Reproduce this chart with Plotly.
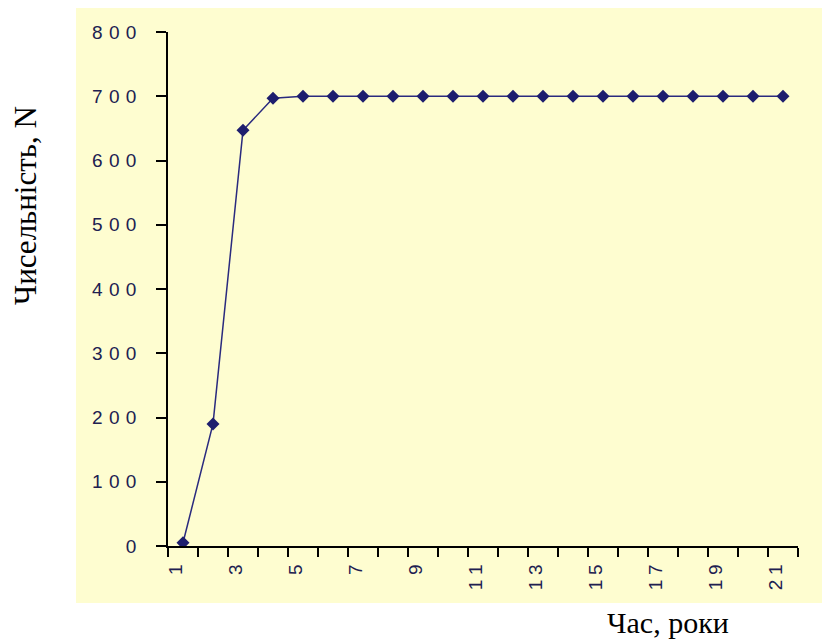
import plotly.graph_objects as go

years = list(range(1, 22))
population = [5, 190, 647, 697] + [700] * 17
y_ticks = [0, 100, 200, 300, 400, 500, 600, 700, 800]
x_label_years = [1, 3, 5, 7, 9, 11, 13, 15, 17, 19, 21]

SP_Y = "\u2004"
SP_X = "\u2005"

W, H = 822, 641
L, R, T, B = 168, 24, 32, 95
pw, ph = W - L - R, H - T - B

def px_x(p):
    return (p - L) / pw

def px_y(p):
    return (H - B - p) / ph

fig = go.Figure()
fig.add_trace(go.Scatter(
    x=years, y=population, mode="lines+markers",
    line=dict(color="#2A2A7E", width=1.5),
    marker=dict(symbol="diamond", size=10, color="#1E1E6E"),
    hoverinfo="x+y", showlegend=False,
))

tick_font = dict(family="Liberation Sans, Arial", size=19, color="#202050")

fig.update_layout(
    width=W, height=H,
    margin=dict(l=L, r=R, t=T, b=B),
    paper_bgcolor="white",
    plot_bgcolor="rgba(0,0,0,0)",
    xaxis=dict(
        range=[0.5, 21.5],
        tickmode="array",
        tickvals=x_label_years,
        ticktext=[SP_X.join(str(v)) for v in x_label_years],
        ticks="",
        tickangle=-90,
        tickfont=tick_font,
        ticklabelshift=-7,
        ticklabelstandoff=9,
        minor=dict(
            tickmode="array",
            tickvals=[y + 0.5 for y in [0] + years],
            ticks="outside", ticklen=9, tickwidth=1.5, tickcolor="black",
            showgrid=False,
        ),
        showline=True, linecolor="black", linewidth=1.5,
        showgrid=False, zeroline=False, fixedrange=True,
    ),
    yaxis=dict(
        range=[0, 800],
        tickmode="array",
        tickvals=y_ticks,
        ticktext=[SP_Y.join(str(v)) for v in y_ticks],
        ticks="outside", ticklen=10, tickwidth=1.5, tickcolor="black",
        tickfont=tick_font,
        ticklabelstandoff=16,
        showline=True, linecolor="black", linewidth=1.5,
        showgrid=False, zeroline=False, fixedrange=True,
    ),
    shapes=[dict(
        type="rect", xref="paper", yref="paper",
        x0=px_x(76), x1=px_x(822), y0=px_y(603), y1=px_y(8),
        fillcolor="#FEFDD0", line=dict(width=0), layer="below",
    )],
    annotations=[
        dict(text="Чисельність, N", xref="paper", yref="paper",
             x=px_x(25), y=px_y(206), xanchor="center", yanchor="middle",
             textangle=-90, showarrow=False,
             font=dict(family="Liberation Serif, Times New Roman", size=31, color="black")),
        dict(text="Час, роки", xref="paper", yref="paper",
             x=px_x(668), y=px_y(622), xanchor="center", yanchor="middle",
             showarrow=False,
             font=dict(family="Liberation Serif, Times New Roman", size=30, color="black")),
    ],
)

fig.write_html("out.html")
